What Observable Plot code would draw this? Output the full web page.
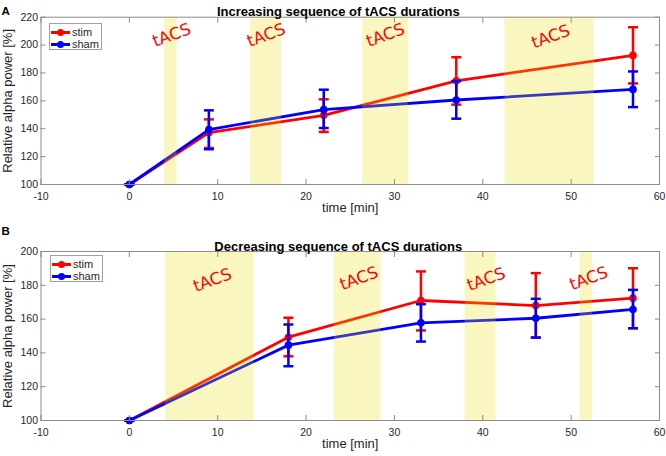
<!DOCTYPE html>
<html><head><meta charset="utf-8">
<script src="https://cdn.jsdelivr.net/npm/d3@7"></script>
<script src="https://cdn.jsdelivr.net/npm/@observablehq/plot@0.6"></script>
<style>
body{margin:0;background:#fff;}
#wrap{position:relative;width:666px;height:456px;overflow:hidden;font-family:"Liberation Sans",Arial,sans-serif;}
.panel{position:absolute;left:0;}
.legend{position:absolute;background:#fff;border:1px solid #a0a0a0;box-sizing:border-box;font-size:11px;color:#262626;}
.row{position:absolute;left:1px;height:12px;display:flex;align-items:center;white-space:nowrap;}
.icon{position:relative;width:19px;height:12px;margin-right:2px;}
.icon .ln{position:absolute;left:0;top:4.5px;width:19px;height:3px;}
.icon .dt{position:absolute;left:6px;top:2.5px;width:7px;height:7px;border-radius:50%;}
</style></head>
<body><div id="wrap"></div>
<script>
// ---- data: panel A (increasing sequence) ----
const timesA  = [0, 9, 22, 37, 57];
const stimA   = [100, 137.2, 149.6, 174.4, 192.6];
const stimLoA = [100, 126.2, 137.7, 157.3, 172.5];
const stimHiA = [100, 146.7, 161.1, 191.3, 212.8];
const shamA   = [100, 139.4, 153.7, 160.6, 168.2];
const shamLoA = [100, 125.3, 140.5, 147.2, 155.5];
const shamHiA = [100, 153.2, 168.0, 174.2, 181.1];
const bandStartA = [4.0, 13.7, 26.4, 42.5];
const bandEndA   = [5.4, 17.2, 31.6, 52.6];
const labelTA = [4.8, 15.5, 29.0, 47.7];
const labelVA = [207, 207, 207, 206];

// ---- data: panel B (decreasing sequence) ----
const timesB  = [0, 18, 33, 46, 57];
const stimB   = [100, 149.3, 171.0, 168.0, 172.4];
const stimLoB = [100, 138.0, 153.3, 149.0, 154.6];
const stimHiB = [100, 160.8, 188.2, 187.2, 190.1];
const shamB   = [100, 144.6, 157.8, 160.5, 165.7];
const shamLoB = [100, 132.1, 146.7, 149.1, 154.6];
const shamHiB = [100, 156.8, 168.8, 172.0, 177.3];
const bandStartB = [4.1, 23.2, 38.0, 51.0];
const bandEndB   = [14.1, 28.5, 41.5, 52.4];
const labelTB = [9.4, 26.0, 40.4, 52.0];
const labelVB = [183, 184, 183.5, 184];

const xTicks  = [-10, 0, 10, 20, 30, 40, 50, 60];
const yTicksA = [100, 120, 140, 160, 180, 200, 220];
const yTicksB = [100, 120, 140, 160, 180, 200];
const seriesNames = ["stim", "sham"];
const titles = ["Increasing sequence of tACS durations", "Decreasing sequence of tACS durations"];
const letters = ["A", "B"];
const xLabel = "time [min]";
const yLabel = "Relative alpha power [%]";
const bandText = "tACS";

const RED = "#ff0000", BLUE = "#0000ff", BAND = "#e8e000", AX = "#8c8c8c", TXT = "#262626";
const FONT = "'Liberation Sans', Arial, sans-serif";

const cap = {draw(ctx, size) { const r = Math.sqrt(size / Math.PI); ctx.moveTo(-r, 0); ctx.lineTo(r, 0); }};

function rows(t, v, lo, hi) { return t.map((d, i) => ({t: d, v: v[i], lo: lo[i], hi: hi[i]})); }

function makePanel(o) {
  const stim = rows(o.times, o.stim, o.stimLo, o.stimHi);
  const sham = rows(o.times, o.sham, o.shamLo, o.shamHi);
  const bands = o.bandStart.map((a, i) => ({a, b: o.bandEnd[i]}));
  const labels = o.labelT.map((t, i) => ({t, v: o.labelV[i]}));
  const series = (data, color) => [
    Plot.line(data, {x: "t", y: "v", stroke: color, strokeWidth: 2.8}),
    Plot.ruleX(data, {x: "t", y1: "lo", y2: "hi", stroke: color, strokeWidth: 2.5}),
    Plot.dot(data, {x: "t", y: "lo", symbol: cap, r: 5, stroke: color, strokeWidth: 2.5, fill: "none"}),
    Plot.dot(data, {x: "t", y: "hi", symbol: cap, r: 5, stroke: color, strokeWidth: 2.5, fill: "none"}),
    Plot.dot(data, {x: "t", y: "v", r: 3.8, fill: color})
  ];
  return Plot.plot({
    width: 666, height: o.height,
    marginLeft: 40.5, marginRight: 7, marginTop: o.marginTop, marginBottom: 36,
    style: {fontFamily: FONT, fontSize: "10.5px", color: TXT, background: "transparent", overflow: "visible"},
    x: {domain: [-10, 60], ticks: xTicks, label: null},
    y: {domain: o.yDomain, ticks: o.yTicks, label: null},
    marks: [
      ...series(stim, RED),
      ...series(sham, BLUE),
      Plot.rect(bands, {x1: "a", x2: "b", fill: BAND, fillOpacity: 0.25}),
      Plot.text(labels, {x: "t", y: "v", text: () => bandText, rotate: -20, fill: RED, fontSize: 16.5, fontFamily: "'DejaVu Sans', sans-serif"}),
      Plot.frame({stroke: AX, strokeWidth: 1}),
      Plot.axisX({anchor: "bottom", ticks: xTicks, tickSize: -5, tickPadding: 13.5, tickFormat: d => String(d), stroke: AX, fill: TXT}),
      Plot.axisX({anchor: "top", ticks: xTicks, tickSize: -5, tickFormat: () => "", stroke: AX}),
      Plot.axisY({anchor: "left", ticks: o.yTicks, tickSize: -5, tickPadding: 8, tickFormat: d => String(d), stroke: AX, fill: TXT}),
      Plot.axisY({anchor: "right", ticks: o.yTicks, tickSize: -5, tickFormat: () => "", stroke: AX}),
      Plot.text([o.title], {text: d => d, frameAnchor: "top", textAnchor: "middle", dx: -12, dy: o.titleDy, fontWeight: "bold", fontSize: 13, fill: "#000"}),
      Plot.text([o.letter], {text: d => d, frameAnchor: "top-left", textAnchor: "start", dx: -39.5, dy: o.letterDy, fontWeight: "bold", fontSize: 11.5, fill: "#000"}),
      Plot.text([xLabel], {text: d => d, frameAnchor: "bottom", textAnchor: "middle", dy: 27.5, fontSize: 13, fill: TXT}),
      Plot.text([yLabel], {text: d => d, frameAnchor: "left", textAnchor: "middle", lineAnchor: "middle", dx: -33.5, rotate: -90, fontSize: 13, fill: TXT})
    ]
  });
}

function legend(left, top) {
  const el = document.createElement("div");
  el.className = "legend";
  Object.assign(el.style, {left: left + "px", top: top + "px", width: "53px", height: "27px"});
  [RED, BLUE].forEach((c, i) => {
    const r = document.createElement("div");
    r.className = "row";
    r.style.top = (2 + 12 * i) + "px";
    r.innerHTML = `<span class="icon"><span class="ln" style="background:${c}"></span><span class="dt" style="background:${c}"></span></span><span>${seriesNames[i]}</span>`;
    el.appendChild(r);
  });
  return el;
}

const wrap = document.getElementById("wrap");
const A = makePanel({times: timesA, stim: stimA, stimLo: stimLoA, stimHi: stimHiA, sham: shamA, shamLo: shamLoA, shamHi: shamHiA,
  bandStart: bandStartA, bandEnd: bandEndA, labelT: labelTA, labelV: labelVA, yDomain: [100, 220], yTicks: yTicksA,
  title: titles[0], letter: letters[0], height: 220, marginTop: 16.7, titleDy: -10.7, letterDy: -10.2});
A.classList.add("panel"); A.style.top = "0px";
wrap.appendChild(A);
const B = makePanel({times: timesB, stim: stimB, stimLo: stimLoB, stimHi: stimHiB, sham: shamB, shamLo: shamLoB, shamHi: shamHiB,
  bandStart: bandStartB, bandEnd: bandEndB, labelT: labelTB, labelV: labelVB, yDomain: [100, 200], yTicks: yTicksB,
  title: titles[1], letter: letters[1], height: 236, marginTop: 31, titleDy: -10, letterDy: -24.5});
B.classList.add("panel"); B.style.top = "220px";
wrap.appendChild(B);
wrap.appendChild(legend(49, 23));
wrap.appendChild(legend(50, 255));
</script>
</body></html>
